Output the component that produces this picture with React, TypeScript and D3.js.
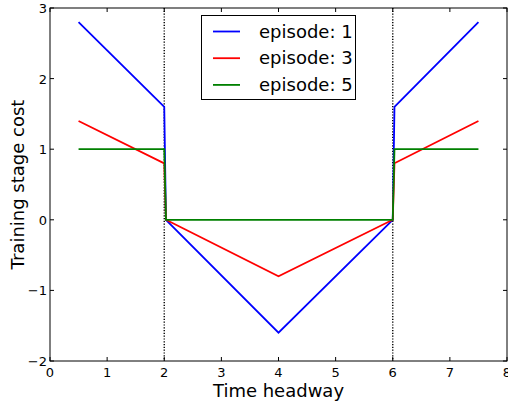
import React, { useEffect, useRef } from 'react';
import * as d3 from 'd3';

// series as [time headway, cost] pairs
const episode1: [number, number][] = [[0.5, 2.8], [2, 1.6], [2.03, 0], [4, -1.6], [6, 0], [6.03, 1.6], [7.5, 2.8]];
const episode3: [number, number][] = [[0.5, 1.4], [2, 0.8], [2.03, 0], [4, -0.8], [6, 0], [6.03, 0.8], [7.5, 1.4]];
const episode5: [number, number][] = [[0.5, 1], [2, 1], [2.03, 0], [6, 0], [6.03, 1], [7.5, 1]];
const seriesNames = ['episode: 1', 'episode: 3', 'episode: 5'];
const seriesColors = ['#0000ff', '#ff0000', '#008000'];
const xTicks = [0, 1, 2, 3, 4, 5, 6, 7, 8];
const yTicks = [-2, -1, 0, 1, 2, 3];
const vLines = [2, 6];

const App = () => {
  const svgRef = useRef<SVGSVGElement>(null);

  useEffect(() => {
    const svg = d3.select(svgRef.current);
    svg.selectAll('*').remove();

    const width = 508;
    const height = 407;
    const margin = { top: 8, right: 1, bottom: 46, left: 50 };
    const font = 'DejaVu Sans, sans-serif';

    const x = d3.scaleLinear().domain([0, 8]).range([margin.left, width - margin.right]);
    const y = d3.scaleLinear().domain([-2, 3]).range([height - margin.bottom, margin.top]);

    const line = d3.line<[number, number]>()
      .x(d => x(d[0]))
      .y(d => y(d[1]));

    // vertical dotted markers
    vLines.forEach(v => {
      svg.append('line')
        .attr('x1', x(v)).attr('x2', x(v))
        .attr('y1', y(3)).attr('y2', y(-2))
        .attr('stroke', '#000')
        .attr('stroke-width', 1.4)
        .attr('stroke-dasharray', '1.2,1.6');
    });

    [episode1, episode3, episode5].forEach((data, i) => {
      svg.append('path')
        .datum(data)
        .attr('fill', 'none')
        .attr('stroke', seriesColors[i])
        .attr('stroke-width', 1.8)
        .attr('d', line);
    });

    // frame
    svg.append('rect')
      .attr('x', x(0)).attr('y', y(3))
      .attr('width', x(8) - x(0)).attr('height', y(-2) - y(3))
      .attr('fill', 'none').attr('stroke', '#000').attr('stroke-width', 1);

    // inward ticks on all four sides
    const tickLen = 4;
    const ticks = svg.append('g').attr('stroke', '#000').attr('stroke-width', 1);
    xTicks.forEach(t => {
      ticks.append('line').attr('x1', x(t)).attr('x2', x(t)).attr('y1', y(-2)).attr('y2', y(-2) - tickLen);
      ticks.append('line').attr('x1', x(t)).attr('x2', x(t)).attr('y1', y(3)).attr('y2', y(3) + tickLen);
    });
    yTicks.forEach(t => {
      ticks.append('line').attr('x1', x(0)).attr('x2', x(0) + tickLen).attr('y1', y(t)).attr('y2', y(t));
      ticks.append('line').attr('x1', x(8)).attr('x2', x(8) - tickLen).attr('y1', y(t)).attr('y2', y(t));
    });

    // tick labels
    svg.append('g').selectAll('text').data(xTicks).join('text')
      .attr('x', d => x(d)).attr('y', y(-2) + 16)
      .attr('text-anchor', 'middle')
      .attr('font-family', font).attr('font-size', 13)
      .text(d => d);

    svg.append('g').selectAll('text').data(yTicks).join('text')
      .attr('x', x(0) - 3).attr('y', d => y(d) + 5)
      .attr('text-anchor', 'end')
      .attr('font-family', font).attr('font-size', 13)
      .text(d => (d < 0 ? '\u2212' + Math.abs(d) : d));

    // axis labels
    svg.append('text')
      .attr('x', (x(0) + x(8)) / 2).attr('y', height - 10)
      .attr('text-anchor', 'middle')
      .attr('font-family', font).attr('font-size', 18)
      .text('Time headway');

    svg.append('text')
      .attr('transform', `translate(24,${(y(3) + y(-2)) / 2}) rotate(-90)`)
      .attr('text-anchor', 'middle')
      .attr('font-family', font).attr('font-size', 18)
      .text('Training stage cost');

    // legend
    const legend = svg.append('g');
    legend.append('rect')
      .attr('x', 201.5).attr('y', 15.5).attr('width', 154).attr('height', 84)
      .attr('fill', '#fff').attr('stroke', '#000').attr('stroke-width', 1);
    seriesNames.forEach((name, i) => {
      const ly = 31.5 + i * 26.7;
      legend.append('line')
        .attr('x1', 213).attr('x2', 240).attr('y1', ly).attr('y2', ly)
        .attr('stroke', seriesColors[i]).attr('stroke-width', 1.8);
      legend.append('text')
        .attr('x', 259).attr('y', ly + 6)
        .attr('font-family', font).attr('font-size', 18)
        .text(name);
    });
  }, []);

  return (
    <svg ref={svgRef} width={508} height={407} viewBox="0 0 508 407"
      style={{ position: 'absolute', left: 0, top: 0, background: '#fff' }} />
  );
};

export default App;
